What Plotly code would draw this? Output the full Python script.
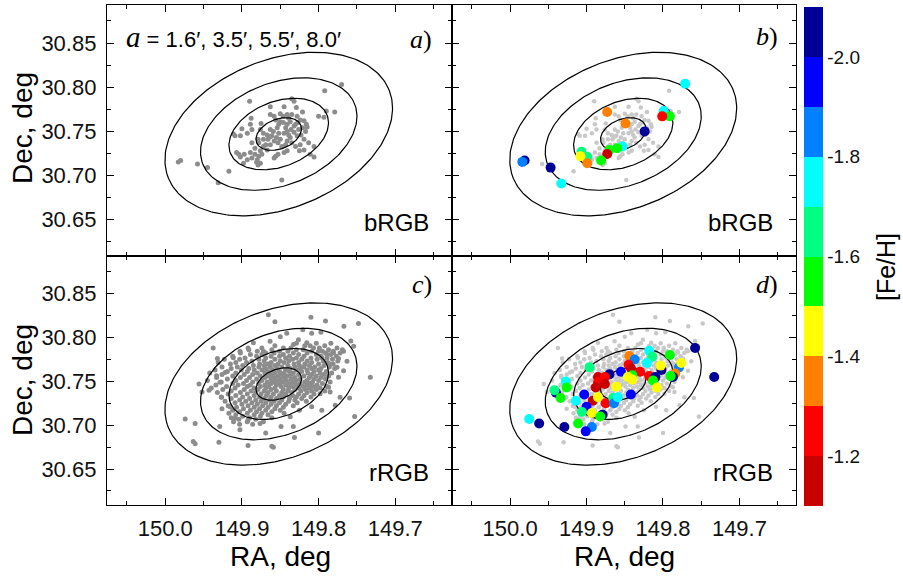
import numpy as np
import plotly.graph_objects as go

W, H = 903, 578

# ---------------- data ----------------
# bRGB stars (RA, Dec) in degrees
brgb = [
    (149.983, 30.7155), (149.980, 30.717), (149.958, 30.713), (149.917, 30.705), (149.890, 30.784),
    (149.835, 30.787), (149.832, 30.784), (149.792, 30.796), (149.770, 30.803), (149.779, 30.772),
    (149.800, 30.767), (149.790, 30.773), (149.793, 30.766), (149.863, 30.778), (149.845, 30.778),
    (149.821, 30.772), (149.888, 30.765), (149.875, 30.759), (149.863, 30.769), (149.858, 30.767),
    (149.850, 30.770), (149.841, 30.769), (149.829, 30.777), (149.828, 30.767), (149.824, 30.763),
    (149.816, 30.758), (149.815, 30.755), (149.819, 30.762), (149.900, 30.753), (149.902, 30.745),
    (149.909, 30.745), (149.911, 30.747), (149.889, 30.758), (149.887, 30.752), (149.893, 30.748),
    (149.876, 30.752), (149.872, 30.748), (149.863, 30.752), (149.861, 30.745), (149.858, 30.739),
    (149.852, 30.758), (149.850, 30.761), (149.846, 30.760), (149.843, 30.754), (149.841, 30.758),
    (149.837, 30.761), (149.836, 30.752), (149.832, 30.756), (149.830, 30.758), (149.826, 30.752),
    (149.828, 30.745), (149.837, 30.743), (149.841, 30.739), (149.843, 30.735), (149.848, 30.733),
    (149.850, 30.741), (149.853, 30.737), (149.855, 30.743), (149.863, 30.735), (149.869, 30.735),
    (149.866, 30.741), (149.867, 30.729), (149.876, 30.728), (149.872, 30.733), (149.887, 30.737),
    (149.889, 30.726), (149.887, 30.720), (149.883, 30.724), (149.880, 30.718), (149.879, 30.712),
    (149.881, 30.715), (149.876, 30.714), (149.878, 30.722), (149.874, 30.724), (149.907, 30.726),
    (149.904, 30.724), (149.902, 30.721), (149.898, 30.714), (149.893, 30.718), (149.897, 30.724),
    (149.856, 30.722), (149.858, 30.720), (149.853, 30.724), (149.845, 30.726), (149.841, 30.728),
    (149.830, 30.733), (149.824, 30.735), (149.819, 30.741), (149.813, 30.737), (149.806, 30.733),
    (149.811, 30.724), (149.806, 30.721), (149.819, 30.729), (149.825, 30.728), (149.848, 30.695),
    (149.879, 30.741), (149.883, 30.731), (149.945, 30.709), (149.931, 30.692), (149.854, 30.754),
    (149.845, 30.748), (149.839, 30.746), (149.835, 30.737), (149.832, 30.749), (149.823, 30.746),
    (149.839, 30.765), (149.852, 30.748), (149.859, 30.750), (149.863, 30.744), (149.867, 30.746),
    (149.872, 30.741), (149.878, 30.737), (149.841, 30.750), (149.821, 30.754), (149.817, 30.750),
    (149.827, 30.760), (149.856, 30.763), (149.846, 30.767), (149.835, 30.769),
]

# rRGB stars: outskirts (RA, Dec) in degrees
rrgb_outer = [
    (149.8655, 30.826), (149.857, 30.818), (149.810, 30.823), (149.791, 30.819), (149.767, 30.813),
    (149.748, 30.816), (149.9375, 30.788), (149.932, 30.776), (149.956, 30.747), (149.952, 30.738),
    (149.943, 30.740), (149.974, 30.707), (149.961, 30.702), (149.9635, 30.6815), (149.961, 30.679),
    (149.930, 30.6805), (149.929, 30.6985), (149.892, 30.677), (149.861, 30.676), (149.859, 30.675),
    (149.869, 30.691), (149.8315, 30.686), (149.800, 30.691), (149.753, 30.710), (149.7325, 30.7546),
    (149.7596, 30.731), (149.7543, 30.790), (149.758, 30.796), (149.8206, 30.809), (149.809, 30.805),
    (149.797, 30.806), (149.774, 30.776), (149.763, 30.773), (149.7805, 30.783), (149.7675, 30.7845),
    (149.785, 30.7696), (149.776, 30.766), (149.7674, 30.762), (149.774, 30.7546), (149.787, 30.7434),
    (149.785, 30.738), (149.798, 30.736), (149.809, 30.721), (149.7958, 30.7172), (149.7783, 30.7228),
    (149.772, 30.732), (149.825, 30.717), (149.837, 30.7097), (149.833, 30.6985), (149.849, 30.6985),
    (149.8764, 30.702), (149.892, 30.706), (149.9026, 30.6948), (149.909, 30.708), (149.9157, 30.721),
    (149.9266, 30.732), (149.9331, 30.7565), (149.922, 30.760), (149.9287, 30.749), (149.9113, 30.777),
    (149.9026, 30.7845), (149.892, 30.788), (149.885, 30.794), (149.872, 30.7845), (149.8633, 30.7957),
    (149.850, 30.801), (149.8415, 30.805), (149.8328, 30.792), (149.8263, 30.7976), (149.8154, 30.794),
    (149.8066, 30.788), (149.800, 30.7845), (149.7958, 30.777), (149.7892, 30.7808),
]

# rRGB stars: dense core, listed as Dec rows with the RA of each star
rrgb_core_rows = [
    (30.7935, [149.829, 149.803, 149.784]),
    (30.7905, [149.857, 149.818, 149.811, 149.792]),
    (30.7882, [149.874, 149.846, 149.836, 149.799, 149.776]),
    (30.7861, [149.891, 149.861, 149.829, 149.820, 149.787, 149.769]),
    (30.7843, [149.880, 149.851, 149.840, 149.809, 149.795, 149.781]),
    (30.7824, [149.902, 149.869, 149.858, 149.833, 149.815, 149.791, 149.772]),
    (30.7806, [149.889, 149.874, 149.846, 149.826, 149.803, 149.784]),
    (30.7787, [149.912, 149.881, 149.862, 149.851, 149.838, 149.819, 149.797, 149.777]),
    (30.7768, [149.896, 149.869, 149.843, 149.829, 149.810, 149.789]),
    (30.7751, [149.923, 149.903, 149.878, 149.857, 149.834, 149.822, 149.802, 149.782]),
    (30.7733, [149.887, 149.871, 149.850, 149.839, 149.815, 149.794, 149.775]),
    (30.7716, [149.931, 149.908, 149.894, 149.862, 149.845, 149.826, 149.809, 149.788]),
    (30.7698, [149.915, 149.877, 149.866, 149.853, 149.832, 149.818, 149.800, 149.781]),
    (30.7681, [149.899, 149.885, 149.871, 149.857, 149.840, 149.825, 149.812, 149.793]),
    (30.7663, [149.926, 149.906, 149.878, 149.863, 149.848, 149.831, 149.819, 149.805, 149.786]),
    (30.7647, [149.914, 149.891, 149.869, 149.854, 149.837, 149.824, 149.809, 149.797, 149.779]),
    (30.7629, [149.935, 149.901, 149.884, 149.874, 149.860, 149.843, 149.829, 149.815, 149.800]),
    (30.7612, [149.919, 149.893, 149.866, 149.851, 149.838, 149.822, 149.806, 149.790]),
    (30.7595, [149.942, 149.908, 149.880, 149.870, 149.857, 149.845, 149.833, 149.814, 149.798, 149.783]),
    (30.7578, [149.926, 149.897, 149.886, 149.862, 149.849, 149.836, 149.826, 149.809, 149.793]),
    (30.7561, [149.912, 149.876, 149.866, 149.853, 149.841, 149.819, 149.803, 149.787]),
    (30.7544, [149.933, 149.902, 149.890, 149.870, 149.858, 149.845, 149.831, 149.812, 149.797]),
    (30.7527, [149.919, 149.881, 149.862, 149.850, 149.836, 149.824, 149.806, 149.791]),
    (30.7510, [149.945, 149.908, 149.894, 149.874, 149.855, 149.842, 149.829, 149.815, 149.800]),
    (30.7493, [149.927, 149.886, 149.867, 149.859, 149.847, 149.833, 149.818, 149.808, 149.785]),
    (30.7476, [149.912, 149.898, 149.878, 149.862, 149.851, 149.838, 149.824, 149.811, 149.795]),
    (30.7459, [149.934, 149.905, 149.889, 149.870, 149.855, 149.843, 149.829, 149.815, 149.802]),
    (30.7442, [149.920, 149.893, 149.876, 149.865, 149.849, 149.834, 149.820, 149.807, 149.789]),
    (30.7425, [149.940, 149.909, 149.884, 149.869, 149.857, 149.839, 149.826, 149.812, 149.798]),
    (30.7408, [149.925, 149.897, 149.879, 149.862, 149.846, 149.831, 149.817, 149.803]),
    (30.7391, [149.914, 149.888, 149.871, 149.855, 149.840, 149.823, 149.809, 149.792]),
    (30.7374, [149.932, 149.902, 149.882, 149.866, 149.848, 149.835, 149.815]),
    (30.7357, [149.918, 149.893, 149.875, 149.859, 149.843, 149.826, 149.806]),
    (30.7340, [149.908, 149.884, 149.868, 149.851, 149.834, 149.819]),
    (30.7323, [149.927, 149.899, 149.877, 149.862, 149.846, 149.829, 149.810]),
    (30.7306, [149.914, 149.890, 149.871, 149.855, 149.838, 149.822]),
    (30.7289, [149.903, 149.882, 149.864, 149.848, 149.831]),
    (30.7272, [149.922, 149.895, 149.875, 149.858, 149.839, 149.816]),
    (30.7255, [149.909, 149.887, 149.869, 149.851, 149.828]),
    (30.7238, [149.900, 149.880, 149.862, 149.843]),
    (30.7221, [149.918, 149.892, 149.873, 149.855, 149.833]),
    (30.7204, [149.907, 149.884, 149.866, 149.846]),
    (30.7187, [149.926, 149.898, 149.877, 149.857]),
    (30.7170, [149.912, 149.889, 149.869, 149.850]),
    (30.7153, [149.903, 149.881, 149.861]),
    (30.7136, [149.917, 149.893, 149.874, 149.845]),
    (30.7119, [149.908, 149.884, 149.866]),
    (30.7102, [149.899, 149.876]),
    (30.7085, [149.914, 149.890, 149.861]),
    (30.7068, [149.904, 149.882]),
    (30.7040, [149.911, 149.893, 149.872]),
    (30.7012, [149.903, 149.886]),
]

# bRGB stars with spectroscopic [Fe/H]: (RA, Dec, [Fe/H])
brgb_feh = [
    (149.771, 30.804, -1.75), (149.799, 30.773, -1.75), (149.791, 30.767, -1.55), (149.801, 30.767, -1.25),
    (149.873, 30.772, -1.35), (149.849, 30.759, -1.35), (149.824, 30.750, -2.05), (149.853, 30.733, -1.75),
    (149.860, 30.731, -1.55), (149.870, 30.729, -1.55), (149.873, 30.7245, -1.15), (149.881, 30.717, -1.55),
    (149.9065, 30.727, -1.65), (149.899, 30.721, -1.65), (149.908, 30.722, -1.45), (149.899, 30.714, -1.35),
    (149.981, 30.717, -2.05), (149.984, 30.7155, -1.85), (149.947, 30.709, -2.05), (149.933, 30.691, -1.75),
]

# rRGB stars with spectroscopic [Fe/H]: (RA, Dec, [Fe/H])
rrgb_feh = [
    (149.758, 30.788, -2.05), (149.733, 30.755, -2.05), (149.818, 30.785, -1.75), (149.844, 30.779, -1.35),
    (149.837, 30.775, -1.85), (149.814, 30.778, -1.65), (149.791, 30.780, -1.55), (149.821, 30.771, -1.75),
    (149.845, 30.769, -1.25), (149.842, 30.765, -1.15), (149.855, 30.761, -1.95), (149.802, 30.763, -2.05),
    (149.803, 30.768, -1.45), (149.779, 30.766, -1.85), (149.776, 30.771, -1.45), (149.784, 30.759, -1.35),
    (149.787, 30.755, -2.05), (149.790, 30.756, -1.55), (149.870, 30.758, -2.05), (149.830, 30.761, -1.25),
    (149.811, 30.754, -1.95), (149.818, 30.756, -1.25), (149.810, 30.755, -2.05), (149.813, 30.751, -1.55),
    (149.808, 30.743, -1.45), (149.840, 30.757, -1.55), (149.846, 30.755, -1.45), (149.885, 30.755, -1.15),
    (149.876, 30.755, -1.25), (149.885, 30.749, -1.25), (149.876, 30.747, -1.15), (149.888, 30.743, -1.15),
    (149.896, 30.766, -1.65), (149.927, 30.750, -1.75), (149.926, 30.743, -1.55), (149.940, 30.737, -2.05),
    (149.942, 30.740, -1.65), (149.934, 30.731, -1.55), (149.861, 30.744, -1.45), (149.903, 30.735, -1.95),
    (149.914, 30.728, -1.75), (149.892, 30.728, -1.15), (149.885, 30.732, -1.45), (149.875, 30.725, -1.25),
    (149.865, 30.731, -1.65), (149.864, 30.725, -1.85), (149.859, 30.732, -1.75), (149.842, 30.735, -1.95),
    (149.900, 30.721, -1.95), (149.906, 30.715, -1.65), (149.893, 30.714, -1.45), (149.879, 30.712, -2.05),
    (149.882, 30.710, -1.55), (149.911, 30.702, -1.55), (149.893, 30.698, -1.85), (149.901, 30.693, -1.95),
    (149.929, 30.698, -2.05), (149.962, 30.702, -2.05), (149.975, 30.707, -1.75), (149.840, 30.752, -1.45),
]

# isophotal ellipses (semi-major axes, arcmin) and their shape
ellipse_a_arcmin = [1.6, 3.5, 5.5, 8.0]
center_ra, center_dec = 149.852, 30.747
ellipticity = 0.37
pa_deg = 112.0

x_tick_vals = [150.0, 149.9, 149.8, 149.7]
x_minor_vals = [150.05, 149.95, 149.85, 149.75, 149.65]
y_tick_vals = [30.65, 30.70, 30.75, 30.80, 30.85]
y_minor_vals = [30.625, 30.675, 30.725, 30.775, 30.825, 30.875]
x_range = [150.076, 149.626]
y_range = [30.609, 30.893]

feh_band_colors = ['#C80000', '#FF0000', '#FF8000', '#FFFF00', '#00FF00',
                   '#00FF80', '#00FFFF', '#0080FF', '#0000FF', '#000096']   # from -1.1 down to -2.1
feh_min, feh_max = -2.1, -1.1
cbar_tick_vals = [-2.0, -1.8, -1.6, -1.4, -1.2]
cbar_tick_text = ['-2.0', '-1.8', '-1.6', '-1.4', '-1.2']

# ---------------- helpers ----------------
SANS = 'Liberation Sans, Arial, sans-serif'
SERIF = 'Liberation Serif, Times New Roman, serif'


def px(x):
    return x / W


def py(y):
    return 1 - y / H


def ellipse_curve(a_arcmin, n=240):
    a = a_arcmin / 60.0
    b = a * (1 - ellipticity)
    t = np.linspace(0, 2 * np.pi, n)
    pa = np.radians(pa_deg)
    u, v = a * np.cos(t), b * np.sin(t)
    east = u * np.sin(pa) + v * np.cos(pa)
    north = u * np.cos(pa) - v * np.sin(pa)
    return center_ra + east / np.cos(np.radians(center_dec)), center_dec + north


rrgb = list(rrgb_outer)
for dec, ras in rrgb_core_rows:
    for ra in ras:
        rrgb.append((ra, dec))

b_ra = [p[0] for p in brgb]
b_dec = [p[1] for p in brgb]
r_ra = [p[0] for p in rrgb]
r_dec = [p[1] for p in rrgb]

fig = go.Figure()
panels = [('x', 'y'), ('x2', 'y2'), ('x3', 'y3'), ('x4', 'y4')]

# grey photometric samples
fig.add_trace(go.Scatter(x=b_ra, y=b_dec, mode='markers', xaxis='x', yaxis='y',
                         marker=dict(size=5, color='#8c8c8c', line=dict(width=0))))
fig.add_trace(go.Scatter(x=r_ra, y=r_dec, mode='markers', xaxis='x3', yaxis='y3',
                         marker=dict(size=5, color='#8c8c8c', line=dict(width=0))))
fig.add_trace(go.Scatter(x=b_ra, y=b_dec, mode='markers', xaxis='x2', yaxis='y2',
                         marker=dict(size=4.5, color='#c8c8c8', line=dict(width=0))))
fig.add_trace(go.Scatter(x=r_ra, y=r_dec, mode='markers', xaxis='x4', yaxis='y4',
                         marker=dict(size=4.5, color='#c8c8c8', line=dict(width=0))))

# ellipses on top of the grey points
for (xa, ya) in panels:
    for a in ellipse_a_arcmin:
        ex, ey = ellipse_curve(a)
        fig.add_trace(go.Scatter(x=ex, y=ey, mode='lines', xaxis=xa, yaxis=ya,
                                 line=dict(color='black', width=1.2), hoverinfo='skip'))

# spectroscopic stars coloured by [Fe/H]
for data, xa, ya in [(brgb_feh, 'x2', 'y2'), (rrgb_feh, 'x4', 'y4')]:
    fig.add_trace(go.Scatter(
        x=[p[0] for p in data], y=[p[1] for p in data], mode='markers', xaxis=xa, yaxis=ya,
        marker=dict(size=10, color=[-p[2] for p in data], coloraxis='coloraxis', line=dict(width=0))))

# discrete colour scale (plotted on -[Fe/H] so that -2.1 sits on top)
n = len(feh_band_colors)
cscale = []
for i, c in enumerate(feh_band_colors):
    cscale.append([i / n, c])
    cscale.append([(i + 1) / n, c])

# ---------------- axes ----------------
x_dom = {'x': [px(107), px(452)], 'x2': [px(452), px(796)], 'x3': [px(107), px(452)], 'x4': [px(452), px(796)]}
y_dom = {'y': [py(256), py(5)], 'y2': [py(256), py(5)], 'y3': [py(505), py(256)], 'y4': [py(505), py(256)]}


def axis_style():
    return dict(showline=True, linecolor='black', linewidth=1.3, mirror='allticks',
                ticks='inside', ticklen=7, tickwidth=1.3, tickcolor='black',
                showgrid=False, zeroline=False,
                tickfont=dict(family=SANS, size=22, color='#111111'))


layout_axes = {}
for i, (xa, ya) in enumerate(panels):
    xs = axis_style()
    xs.update(domain=x_dom[xa], range=x_range, anchor=ya, tickmode='array',
              tickvals=x_tick_vals, ticktext=['%.1f' % v for v in x_tick_vals],
              showticklabels=(i >= 2), ticklabelstandoff=3,
              minor=dict(tickmode='array', tickvals=x_minor_vals, ticks='inside', ticklen=4,
                         tickwidth=1.3, tickcolor='black', showgrid=False))
    ys = axis_style()
    ys.update(domain=y_dom[ya], range=y_range, anchor=xa, tickmode='array',
              tickvals=y_tick_vals, ticktext=['%.2f' % v for v in y_tick_vals],
              showticklabels=(i % 2 == 0), ticklabelstandoff=5,
              minor=dict(tickmode='array', tickvals=y_minor_vals, ticks='inside', ticklen=4,
                         tickwidth=1.3, tickcolor='black', showgrid=False))
    key_x = 'xaxis' if xa == 'x' else 'xaxis' + xa[1:]
    key_y = 'yaxis' if ya == 'y' else 'yaxis' + ya[1:]
    layout_axes[key_x] = xs
    layout_axes[key_y] = ys

annotations = []


def ann(text, x, y, size, family=SANS, xanchor='center', yanchor='middle', angle=0):
    annotations.append(dict(text=text, x=px(x), y=py(y), xref='paper', yref='paper',
                            showarrow=False, xanchor=xanchor, yanchor=yanchor, textangle=angle,
                            font=dict(family=family, size=size, color='black')))


ann('<span style="font-family:Liberation Serif;font-size:29px"><i>a</i></span> = 1.6′, 3.5′, 5.5′, 8.0′',
    124, 37, 22, xanchor='left')
ann('<i>a</i>)', 434, 39, 26, family=SERIF, xanchor='right')
ann('<i>b</i>)', 780, 37, 26, family=SERIF, xanchor='right')
ann('<i>c</i>)', 434, 284, 26, family=SERIF, xanchor='right')
ann('<i>d</i>)', 780, 284, 26, family=SERIF, xanchor='right')
ann('bRGB', 431, 222, 24, xanchor='right')
ann('bRGB', 775, 222, 24, xanchor='right')
ann('rRGB', 431, 472, 24, xanchor='right')
ann('rRGB', 775, 472, 24, xanchor='right')
ann('Dec, deg', 22, 128, 28, angle=-90)
ann('Dec, deg', 22, 380, 28, angle=-90)
ann('RA, deg', 280, 556, 28)
ann('RA, deg', 624, 556, 28)
ann('[Fe/H]', 886, 267, 25, angle=-90)

fig.update_layout(
    width=W, height=H, margin=dict(l=0, r=0, t=0, b=0),
    paper_bgcolor='white', plot_bgcolor='white', showlegend=False,
    hovermode=False,
    coloraxis=dict(
        colorscale=cscale, cmin=-feh_max, cmax=-feh_min,
        colorbar=dict(thickness=19, thicknessmode='pixels', len=499 / H, lenmode='fraction',
                      x=px(804), xanchor='left', y=py(256.5), yanchor='middle',
                      xpad=0, ypad=0, outlinewidth=0, ticks='',
                      tickmode='array', tickvals=[-v for v in cbar_tick_vals], ticktext=cbar_tick_text,
                      tickfont=dict(family=SANS, size=19, color='#111111'))),
    annotations=annotations,
    **layout_axes,
)

fig.write_html('out.html')
